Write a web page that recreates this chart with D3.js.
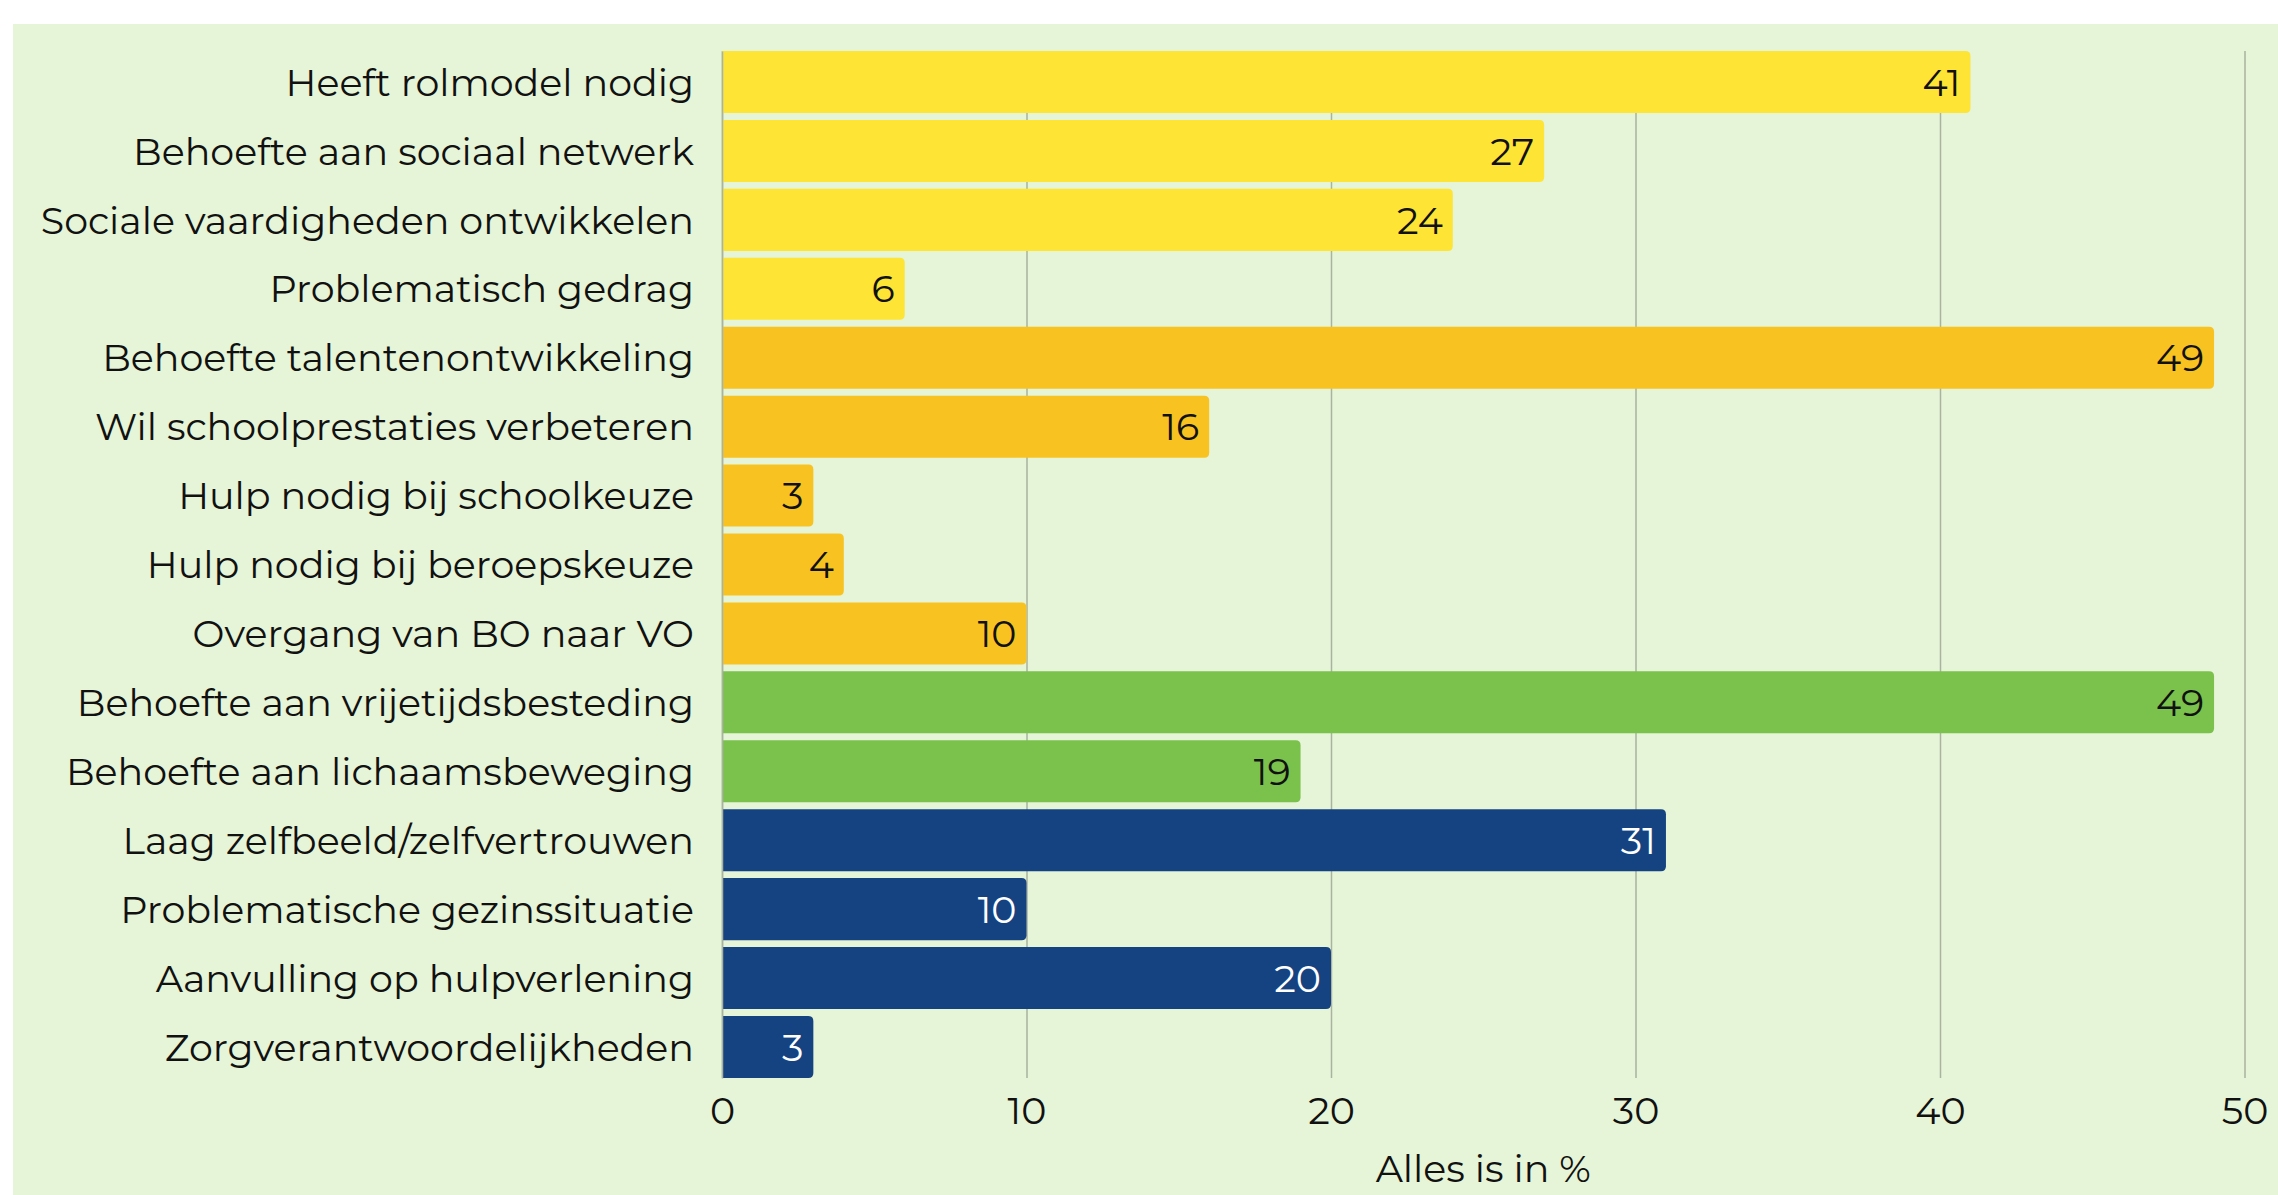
<!DOCTYPE html>
<html>
<head>
<meta charset="utf-8">
<script src="https://cdn.jsdelivr.net/npm/d3@7"></script>
<style>
  html, body { margin: 0; padding: 0; background: #ffffff; }
  svg { display: block; }
  text { font-family: "Montserrat", "DejaVu Sans", sans-serif; }
</style>
</head>
<body>
<svg id="chart" width="2278" height="1195"></svg>
<script>
// ---- data ----
const categories = [
  "Heeft rolmodel nodig",
  "Behoefte aan sociaal netwerk",
  "Sociale vaardigheden ontwikkelen",
  "Problematisch gedrag",
  "Behoefte talentenontwikkeling",
  "Wil schoolprestaties verbeteren",
  "Hulp nodig bij schoolkeuze",
  "Hulp nodig bij beroepskeuze",
  "Overgang van BO naar VO",
  "Behoefte aan vrijetijdsbesteding",
  "Behoefte aan lichaamsbeweging",
  "Laag zelfbeeld/zelfvertrouwen",
  "Problematische gezinssituatie",
  "Aanvulling op hulpverlening",
  "Zorgverantwoordelijkheden"
];
const values = [41, 27, 24, 6, 49, 16, 3, 4, 10, 49, 19, 31, 10, 20, 3];
const groups = ["sociaal", "sociaal", "sociaal", "sociaal",
                "school", "school", "school", "school", "school",
                "vrije tijd", "vrije tijd",
                "zorg", "zorg", "zorg", "zorg"];
const groupNames = ["sociaal", "school", "vrije tijd", "zorg"];
const groupColors = ["#FEE434", "#F8C321", "#7AC24C", "#154382"];
const groupLabelColors = ["#111111", "#111111", "#111111", "#ffffff"];
const tickValues = [0, 10, 20, 30, 40, 50];
const axisTitle = "Alles is in %";

// ---- layout ----
const W = 2278, H = 1195;
const plot = { left: 722, right: 2244.5, top: 51, bottom: 1078 };
const fontSize = 38;

const svg = d3.select("#chart");

svg.append("rect")
  .attr("x", 13).attr("y", 24)
  .attr("width", W - 13).attr("height", H - 24)
  .attr("fill", "#E6F4D7");

const x = d3.scaleLinear().domain([0, 50]).range([plot.left, plot.right]);
const y = d3.scaleBand().domain(categories).range([plot.top, plot.bottom])
  .paddingInner(0.1).paddingOuter(0);
const color = d3.scaleOrdinal().domain(groupNames).range(groupColors);
const labelColor = d3.scaleOrdinal().domain(groupNames).range(groupLabelColors);

// gridlines (via axis)
const grid = svg.append("g")
  .attr("transform", `translate(0,${plot.top})`)
  .call(d3.axisBottom(x).tickValues(tickValues).tickSize(plot.bottom - plot.top).tickFormat(""));
grid.select(".domain").remove();
grid.selectAll(".tick line").attr("stroke", "#A9B3A0").attr("stroke-width", 1.5);

// x tick labels
const xAxis = svg.append("g")
  .attr("transform", `translate(0,${plot.bottom})`)
  .call(d3.axisBottom(x).tickValues(tickValues).tickSize(0).tickPadding(0));
xAxis.select(".domain").remove();
xAxis.selectAll(".tick text")
  .attr("y", 46).attr("dy", 0)
  .attr("fill", "#111111")
  .style("font-size", fontSize + "px")
  .style("font-family", '"Montserrat", "DejaVu Sans", sans-serif');

// bars with rounded right corners
const r = 5;
function barPath(d, i) {
  const x0 = x(0), x1 = x(d), y0 = y(categories[i]), h = y.bandwidth();
  const rr = Math.min(r, (x1 - x0) / 2);
  return `M${x0},${y0} H${x1 - rr} Q${x1},${y0} ${x1},${y0 + rr} V${y0 + h - rr} Q${x1},${y0 + h} ${x1 - rr},${y0 + h} H${x0} Z`;
}
svg.append("g").selectAll("path")
  .data(values)
  .join("path")
  .attr("d", barPath)
  .attr("fill", (d, i) => color(groups[i]));

// category labels
const yAxis = svg.append("g")
  .attr("transform", `translate(${plot.left},0)`)
  .call(d3.axisLeft(y).tickSize(0).tickPadding(28));
yAxis.select(".domain").attr("stroke", "#A9B3A0").attr("stroke-width", 1.5);
yAxis.selectAll(".tick text")
  .attr("fill", "#111111")
  .attr("dy", "0.36em")
  .style("font-size", fontSize + "px")
  .style("font-family", '"Montserrat", "DejaVu Sans", sans-serif');

// value labels
svg.append("g").selectAll("text")
  .data(values)
  .join("text")
  .attr("x", d => x(d) - 10)
  .attr("y", (d, i) => y(categories[i]) + y.bandwidth() / 2)
  .attr("dy", "0.36em")
  .attr("text-anchor", "end")
  .attr("fill", (d, i) => labelColor(groups[i]))
  .style("font-size", fontSize + "px")
  .text(d => d);

// axis title
svg.append("text")
  .attr("x", (plot.left + plot.right) / 2)
  .attr("y", 1182)
  .attr("text-anchor", "middle")
  .attr("fill", "#111111")
  .style("font-size", fontSize + "px")
  .text(axisTitle);
</script>
</body>
</html>
